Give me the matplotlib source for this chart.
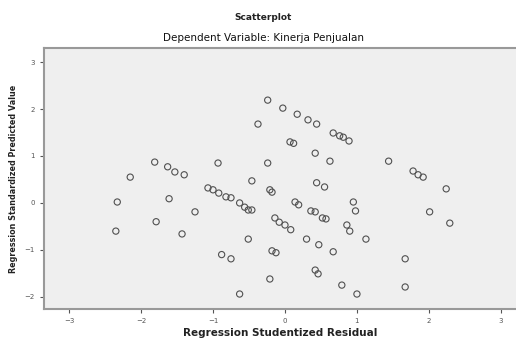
import numpy as np
import matplotlib.pyplot as plt

# studentized residual (x) vs standardized predicted value (y)
resid = [-2.33, -2.35, -2.15, -1.81, -1.63, -1.53, -1.40, -1.61, -1.79, -1.43,
         -1.25, -0.93, -1.07, -1.00, -0.92, -0.82, -0.75, -0.63, -0.56, -0.51,
         -0.46, -0.88, -0.75, -0.51, -0.63, -0.46, -0.24, -0.21, -0.18, -0.375,
         -0.24, -0.14, -0.08, 0.00, -0.18, -0.125, -0.21, -0.03, 0.17, 0.07,
         0.12, 0.32, 0.44, 0.67, 0.76, 0.81, 0.89, 0.42, 0.625, 0.44,
         0.55, 0.14, 0.19, 0.36, 0.42, 0.52, 0.57, 0.30, 0.47, 0.67,
         0.42, 0.46, 0.79, 0.95, 0.98, 0.86, 0.90, 1.00, 1.125, 1.44,
         1.78, 1.85, 1.92, 2.24, 2.01, 2.29, 1.67, 1.67, 0.08]
pred = [0.02, -0.60, 0.55, 0.87, 0.77, 0.66, 0.60, 0.09, -0.40, -0.66,
        -0.19, 0.85, 0.32, 0.28, 0.21, 0.13, 0.11, 0.00, -0.09, -0.15,
        -0.15, -1.10, -1.19, -0.77, -1.94, 0.47, 0.85, 0.28, 0.23, 1.68,
        2.19, -0.32, -0.41, -0.47, -1.02, -1.06, -1.62, 2.02, 1.89, 1.30,
        1.27, 1.77, 1.68, 1.49, 1.43, 1.40, 1.32, 1.06, 0.89, 0.43,
        0.34, 0.02, -0.04, -0.17, -0.19, -0.32, -0.34, -0.77, -0.89, -1.04,
        -1.43, -1.51, -1.75, 0.02, -0.17, -0.47, -0.60, -1.94, -0.77, 0.89,
        0.68, 0.60, 0.55, 0.30, -0.19, -0.43, -1.19, -1.79, -0.57]

xticks = [-3, -2, -1, 0, 1, 2, 3]
yticks = [-2, -1, 0, 1, 2, 3]

fig = plt.figure(figsize=(5.16, 3.43), dpi=100)
ax = fig.add_axes([0.085, 0.099, 0.915, 0.761])
ax.set_facecolor('#efefef')

ax.scatter(resid, pred, s=20, facecolors='none', edgecolors='#505050', linewidths=0.8)

ax.set_xlim(-3.35, 3.21)
ax.set_ylim(-2.26, 3.3)
ax.set_xticks(xticks)
ax.set_yticks(yticks)
ax.tick_params(labelsize=5, colors='#555555', length=3, width=0.8)

for side in ['left', 'bottom', 'top']:
    ax.spines[side].set_color('#999999')
    ax.spines[side].set_linewidth(1.5)
ax.spines['right'].set_visible(False)

ax.set_xlabel('Regression Studentized Residual', fontsize=7.5, fontweight='bold',
              color='#222222', labelpad=3)
ax.set_ylabel('Regression Standardized Predicted Value', fontsize=5.8, fontweight='bold',
              color='#222222', labelpad=5)

fig.text(0.51, 0.948, 'Scatterplot', ha='center', va='center', fontsize=6.5,
         fontweight='bold', color='#222222')
fig.text(0.51, 0.888, 'Dependent Variable: Kinerja Penjualan', ha='center', va='center',
         fontsize=7.5, color='#111111')

fig.savefig('out.png', dpi=100)
